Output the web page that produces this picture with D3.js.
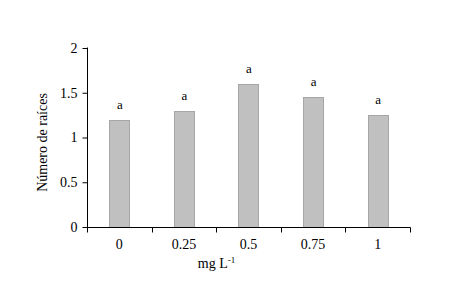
<!DOCTYPE html>
<html>
<head>
<meta charset="utf-8">
<script src="https://cdn.jsdelivr.net/npm/d3@7"></script>
<style>
body { margin: 0; background: #fff; }
svg text { font-family: "Times New Roman", "Liberation Serif", Times, serif !important; fill: #000; }
</style>
</head>
<body>
<script>
// data
var categories = ["0", "0.25", "0.5", "0.75", "1"];
var values = [1.2, 1.3, 1.6, 1.45, 1.25];
var letters = ["a", "a", "a", "a", "a"];
var yTicks = [0, 0.5, 1, 1.5, 2];

var w = 454, h = 300;
var plotLeft = 87, plotRight = 410, plotTop = 48, plotBottom = 227;

var svg = d3.select("body").append("svg")
	.attr("width", w)
	.attr("height", h);

var x = d3.scaleBand()
	.domain(categories)
	.range([plotLeft, plotRight])
	.paddingInner(0.69)
	.paddingOuter(0.345);

var y = d3.scaleLinear()
	.domain([0, 2])
	.range([plotBottom, plotTop]);

// bars
svg.selectAll("rect.bar")
	.data(values)
	.enter()
	.append("rect")
	.attr("class", "bar")
	.attr("x", function(d, i) { return Math.round(x(categories[i])) + 0.5; })
	.attr("y", function(d) { return Math.round(y(d)) + 0.5; })
	.attr("width", Math.round(x.bandwidth()))
	.attr("height", function(d) { return plotBottom - Math.round(y(d)); })
	.attr("fill", "#c0c0c0")
	.attr("stroke", "#a6a6a6")
	.attr("stroke-width", 1);

// letters above bars
svg.selectAll("text.lab")
	.data(values)
	.enter()
	.append("text")
	.attr("class", "lab")
	.attr("x", function(d, i) { return x(categories[i]) + x.bandwidth() / 2 + 0.5; })
	.attr("y", function(d) { return y(d) - 11; })
	.attr("text-anchor", "middle")
	.style("font-size", "13px")
	.text(function(d, i) { return letters[i]; });

// y axis
var yAxis = d3.axisLeft(y)
	.tickValues(yTicks)
	.tickFormat(d3.format("~g"))
	.tickSize(5)
	.tickPadding(5);

var gy = svg.append("g")
	.attr("transform", "translate(" + (plotLeft + 0.5) + ",0)")
	.call(yAxis);
gy.select(".domain").attr("d", "M0," + (plotTop - 0.5) + "V" + (plotBottom + 0.5));
gy.selectAll("text").style("font-size", "14px");

// x axis: ticks between categories
var xAxis = d3.axisBottom(x)
	.tickSize(0)
	.tickPadding(12);
var gx = svg.append("g")
	.attr("transform", "translate(0," + (plotBottom + 0.5) + ")")
	.call(xAxis);
gx.select(".domain").attr("d", "M" + plotLeft + ",0H" + (plotRight + 0.5));
gx.selectAll("text").style("font-size", "14px");

var step = x.step();
var bounds = d3.range(categories.length + 1).map(function(i) { return plotLeft + i * step; });
gx.selectAll("line.sep")
	.data(bounds)
	.enter()
	.append("line")
	.attr("class", "sep")
	.attr("x1", function(d) { return Math.round(d) + 0.5; })
	.attr("x2", function(d) { return Math.round(d) + 0.5; })
	.attr("y1", 0)
	.attr("y2", 5)
	.attr("stroke", "#000");

// axis titles
svg.append("text")
	.attr("transform", "translate(47," + ((plotTop + plotBottom) / 2 + 5) + ") rotate(-90)")
	.attr("text-anchor", "middle")
	.style("font-size", "14px")
	.text("Número de raíces");

var xt = svg.append("text")
	.attr("x", (plotLeft + plotRight) / 2 - 32)
	.attr("y", 268)
	.attr("text-anchor", "middle")
	.style("font-size", "14px");
xt.append("tspan").text("mg L");
xt.append("tspan").attr("dy", -5).style("font-size", "9px").text("-1");
</script>
</body>
</html>
